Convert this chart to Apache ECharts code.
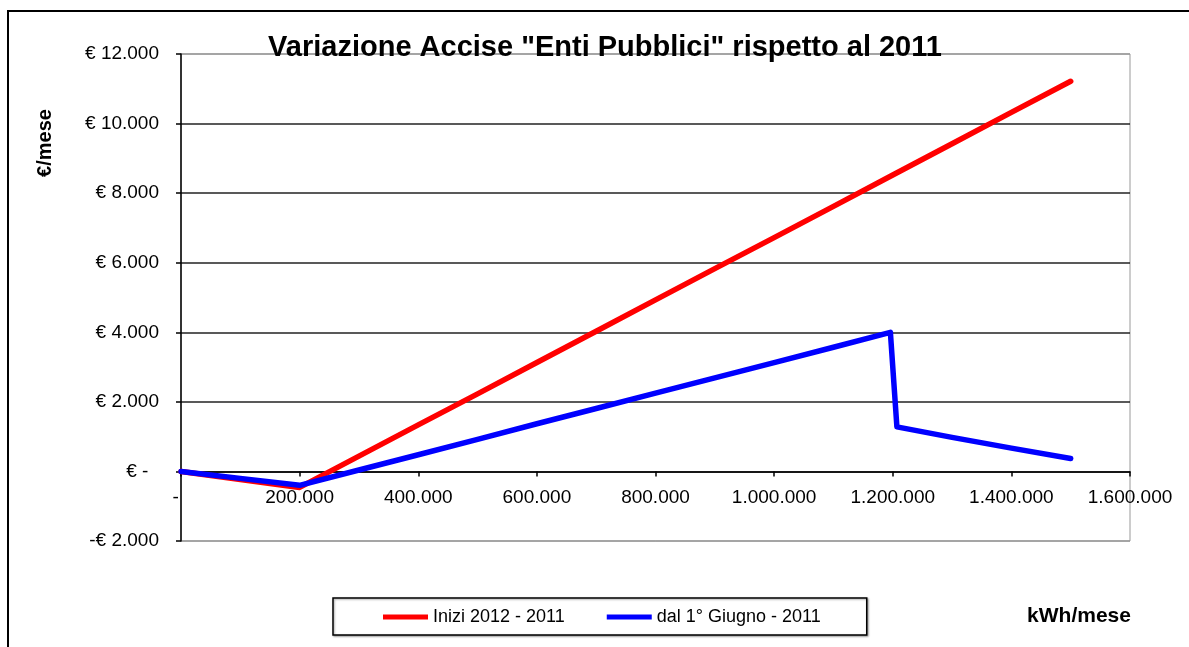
<!DOCTYPE html>
<html>
<head>
<meta charset="utf-8">
<script src="https://cdn.jsdelivr.net/npm/echarts@6/dist/echarts.min.js"></script>
<style>
  html, body { margin: 0; padding: 0; background: #fff; }
  #main { width: 1189px; height: 647px; }
</style>
</head>
<body>
<div id="main"></div>
<script>
// kWh/mese values and the monthly difference (euro) for each series
var kwhInizi = [0, 100000, 200000, 300000, 400000, 500000, 600000, 700000, 800000,
                900000, 1000000, 1100000, 1200000, 1300000, 1400000, 1500000];
var inizi = [0, -230, -460, 440, 1340, 2230, 3130, 4030, 4930,
             5830, 6720, 7620, 8520, 9420, 10320, 11215];

var kwhGiugno = [0, 100000, 200000, 300000, 400000, 500000, 600000, 700000, 800000,
                 900000, 1000000, 1100000, 1196000, 1207000, 1300000, 1400000, 1500000];
var giugno = [0, -200, -400, 40, 480, 920, 1370, 1810, 2250,
              2690, 3130, 3570, 4000, 1280, 980, 670, 370];

var seriesNames = ['Inizi 2012 - 2011', 'dal 1° Giugno - 2011'];
var titleText = 'Variazione Accise "Enti Pubblici" rispetto al 2011';

var FONT = '"Liberation Sans", Arial, sans-serif';

// y range, used also to lift the x axis up to the zero line
var yMin = -2000, yMax = 12000;
var gridTop = 54, gridBottom = 106, chartH = 647;

function pairs(xs, ys) {
    var out = [];
    for (var i = 0; i < xs.length; i++) out.push([xs[i], ys[i]]);
    return out;
}

function dots(n) {
    return String(Math.abs(n)).replace(/\B(?=(\d{3})+(?!\d))/g, '.');
}

var plotH = chartH - gridTop - gridBottom;
var zeroOffset = -plotH * (0 - yMin) / (yMax - yMin);

var myChart = echarts.init(document.getElementById('main'));

var option = {
    backgroundColor: '#fff',
    animation: false,
    title: {
        text: titleText,
        left: 600,
        top: 28,
        textAlign: 'center',
        textStyle: { fontFamily: FONT, fontSize: 29, fontWeight: 'bold', color: '#000' }
    },
    legend: {
        data: seriesNames,
        left: 333,
        top: 598,
        padding: [10, 46, 9, 50],
        itemGap: 42,
        itemWidth: 45,
        itemHeight: 5,
        icon: 'rect',
        borderColor: '#000',
        borderWidth: 1.5,
        backgroundColor: '#fff',
        shadowColor: 'rgba(0,0,0,0.35)',
        shadowBlur: 2,
        shadowOffsetX: 1,
        shadowOffsetY: 1,
        textStyle: { fontFamily: FONT, fontSize: 18, color: '#000' }
    },
    grid: {
        left: 181,
        right: 59,
        top: gridTop,
        bottom: gridBottom,
        show: true,
        borderColor: '#999',
        borderWidth: 1
    },
    xAxis: {
        type: 'value',
        min: 0,
        max: 1600000,
        interval: 200000,
        offset: zeroOffset,
        axisLine: { onZero: false, lineStyle: { color: '#000', width: 1.5 } },
        axisTick: { show: true, length: 5, lineStyle: { color: '#000', width: 1.5 } },
        splitLine: { show: false },
        axisLabel: {
            margin: 17,
            fontFamily: FONT,
            fontSize: 19,
            color: '#000',
            formatter: function (v) { return v === 0 ? '-  ' : dots(v); }
        }
    },
    yAxis: {
        type: 'value',
        min: yMin,
        max: yMax,
        interval: 2000,
        axisLine: { show: true, onZero: false, lineStyle: { color: '#000', width: 1.5 } },
        axisTick: { show: true, length: 5, lineStyle: { color: '#000', width: 1.5 } },
        splitLine: {
            show: true,
            lineStyle: {
                color: ['#999', '#222', '#222', '#222', '#222', '#222', '#222', '#999'],
                width: 1.5
            }
        },
        axisLabel: {
            margin: 22,
            fontFamily: FONT,
            fontSize: 19,
            color: '#000',
            formatter: function (v) {
                if (v === 0) return '€ -  ';
                if (v < 0) return '-€ ' + dots(v);
                return '€ ' + dots(v);
            }
        }
    },
    graphic: [
        {
            type: 'rect',
            shape: { x: 8, y: 11, width: 1300, height: 800 },
            style: { fill: null, stroke: '#000', lineWidth: 2 },
            silent: true,
            z: -10
        },
        {
            type: 'text',
            x: 45,
            y: 143,
            rotation: Math.PI / 2,
            style: {
                text: '€/mese',
                fontFamily: FONT,
                fontSize: 20,
                fontWeight: 'bold',
                fill: '#000',
                align: 'center',
                verticalAlign: 'middle'
            }
        },
        {
            type: 'text',
            x: 1079,
            y: 616,
            style: {
                text: 'kWh/mese',
                fontFamily: FONT,
                fontSize: 21,
                fontWeight: 'bold',
                fill: '#000',
                align: 'center',
                verticalAlign: 'middle'
            }
        }
    ],
    series: [
        {
            name: seriesNames[0],
            type: 'line',
            showSymbol: false,
            color: '#ff0000',
            lineStyle: { color: '#ff0000', width: 5.5, cap: 'round', join: 'round' },
            data: pairs(kwhInizi, inizi)
        },
        {
            name: seriesNames[1],
            type: 'line',
            showSymbol: false,
            color: '#0000ff',
            lineStyle: { color: '#0000ff', width: 5.5, cap: 'round', join: 'round' },
            data: pairs(kwhGiugno, giugno)
        }
    ]
};

myChart.setOption(option);
</script>
</body>
</html>
